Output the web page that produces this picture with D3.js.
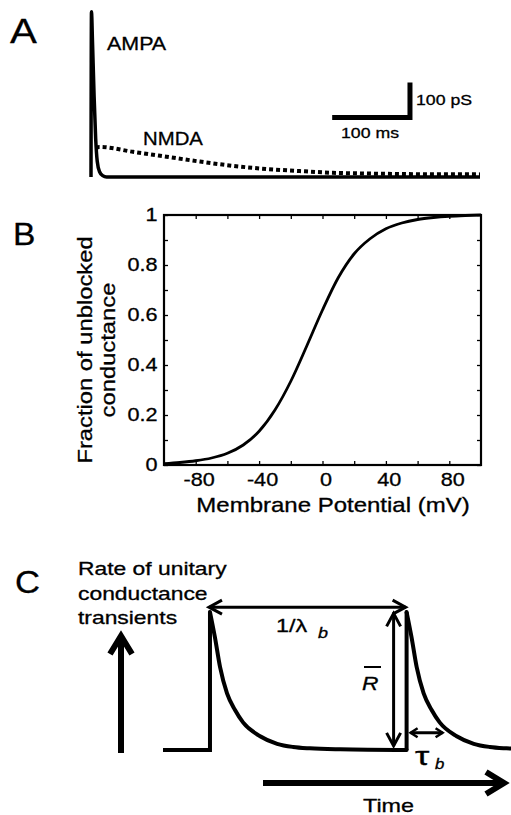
<!DOCTYPE html>
<html>
<head>
<meta charset="utf-8">
<script src="https://cdn.jsdelivr.net/npm/d3@7"></script>
<style>
  body { margin: 0; background: #fff; }
  svg { display: block; }
  text { font-family: "Liberation Sans", Arial, sans-serif; fill: #000; stroke: #000; stroke-width: 0.3px; }
</style>
</head>
<body>
<div id="fig"></div>
<script>
// ---- panel A: unitary conductance traces (time in ms, conductance in pS)
const ampaTime = [0, 0.6, 2, 4, 6, 8, 11, 15, 20, 500];
const ampaCond = [0, 472, 380, 230, 110, 45, 15, 4, 0, 0];
const nmdaTime = [6, 11, 54, 97, 140, 182, 225, 268, 311, 353, 396, 439, 500];
const nmdaCond = [84, 86, 72, 58, 44, 32, 23, 17, 12, 10, 8.6, 7.6, 7.5];
const scaleBarMs = 100, scaleBarPs = 100;

// ---- panel B: fraction of unblocked conductance vs membrane potential (mV)
const voltage   = [-100, -90, -80, -70, -60, -50, -40, -30, -20, -10, 0, 10, 20, 30, 40, 50, 60, 70, 80, 90, 100];
const unblocked = [0.005, 0.01, 0.017, 0.028, 0.047, 0.08, 0.135, 0.22, 0.335, 0.475, 0.62, 0.75, 0.845, 0.905, 0.945, 0.968, 0.982, 0.99, 0.995, 0.998, 1.0];
const xTicksB = [-80, -60, -40, -20, 0, 20, 40, 60, 80];
const yTicksB = [0, 0.1, 0.2, 0.3, 0.4, 0.5, 0.6, 0.7, 0.8, 0.9, 1];

// ---- panel C: schematic rate of transients (arbitrary units)
const transientOnsets = [13.5, 70];
const decayTime = [0, 1.4, 2.9, 4.9, 7.2, 9.5, 14.4, 19.3, 23.9, 28.7, 37.4, 56.5];
const decayRate = [1, 0.82, 0.6, 0.41, 0.29, 0.2, 0.1, 0.045, 0.022, 0.012, 0.005, 0];

const svg = d3.select("#fig").append("svg")
    .attr("width", 511)
    .attr("height", 815);

// text helper: the figure's type is a little wider than Arial, so stretch along the baseline
function addText(x, y, str, size, sx, opt = {}) {
  return svg.append("text")
    .attr("transform", `translate(${x},${y})${opt.rotate ? ` rotate(${opt.rotate})` : ""} scale(${sx},1)`)
    .attr("font-size", size)
    .attr("text-anchor", opt.anchor || "start")
    .attr("font-style", opt.italic ? "italic" : null)
    .text(str);
}

// ================= A =================
addText(10, 43, "A", 35, 1.15);

const xA = d3.scaleLinear().domain([0, 500]).range([91, 480]);
const yA = d3.scaleLinear().domain([0, 500]).range([177, 2]);
const lineA = d3.line()
    .x(d => xA(d[0]))
    .y(d => yA(d[1]))
    .curve(d3.curveMonotoneX);

svg.append("path")
    .datum(d3.zip(nmdaTime, nmdaCond))
    .attr("fill", "none")
    .attr("stroke", "#000")
    .attr("stroke-width", 4)
    .attr("stroke-dasharray", "4,3")
    .attr("d", lineA);

svg.append("path")
    .datum(d3.zip(ampaTime, ampaCond))
    .attr("fill", "none")
    .attr("stroke", "#000")
    .attr("stroke-width", 3.5)
    .attr("stroke-linejoin", "round")
    .attr("d", lineA);

// scale bar
const barT = 410, barG = 170;
svg.append("path")
    .attr("fill", "none")
    .attr("stroke", "#000")
    .attr("stroke-width", 5)
    .attr("d", `M${xA(barT - scaleBarMs)},${yA(barG)}H${xA(barT)}V${yA(barG + scaleBarPs)}`);

addText(107, 50, "AMPA", 18.5, 1.16);
addText(143, 145, "NMDA", 18.5, 1.1);
addText(416, 105, "100 pS", 15, 1.18);
addText(341, 138, "100 ms", 15, 1.18);

// ================= B =================
addText(13, 245, "B", 32, 1.05);

const xB = d3.scaleLinear().domain([-100, 100]).range([164, 481]);
const yB = d3.scaleLinear().domain([0, 1]).range([465, 215]);

function styleAxis(g, sx) {
  g.select(".domain").remove();
  g.selectAll("line").attr("stroke-width", 1.3);
  g.selectAll("text")
    .attr("font-size", 18.5)
    .attr("font-family", "\"Liberation Sans\", Arial, sans-serif")
    .attr("transform", `scale(${sx},1)`);
}

svg.append("g")
    .attr("transform", `translate(0,${yB(0)})`)
    .call(d3.axisBottom(xB).tickValues(xTicksB).tickSize(-4).tickPadding(8)
      .tickFormat(d => d % 40 === 0 ? String(d) : ""))
    .call(g => styleAxis(g, 1.17))
    .call(g => g.selectAll("text").attr("dx", 2.5));

svg.append("g")
    .attr("transform", `translate(${xB(-100)},0)`)
    .call(d3.axisLeft(yB).tickValues(yTicksB).tickSize(-4).tickPadding(5.5)
      .tickFormat(d => Math.round(d * 10) % 2 === 0 ? String(+d.toFixed(1)) : ""))
    .call(g => styleAxis(g, 1.17));

svg.append("g")
    .attr("transform", `translate(0,${yB(1)})`)
    .call(d3.axisTop(xB).tickValues(xTicksB).tickSize(-4).tickFormat(""))
    .call(g => styleAxis(g, 1));

svg.append("g")
    .attr("transform", `translate(${xB(100)},0)`)
    .call(d3.axisRight(yB).tickValues(yTicksB).tickSize(-4).tickFormat(""))
    .call(g => styleAxis(g, 1));

svg.append("rect")
    .attr("x", xB(-100))
    .attr("y", yB(1))
    .attr("width", xB(100) - xB(-100))
    .attr("height", yB(0) - yB(1))
    .attr("fill", "none")
    .attr("stroke", "#000")
    .attr("stroke-width", 2.2);

svg.append("path")
    .datum(d3.zip(voltage, unblocked))
    .attr("fill", "none")
    .attr("stroke", "#000")
    .attr("stroke-width", 2.8)
    .attr("d", d3.line()
      .x(d => xB(d[0]))
      .y(d => yB(d[1]))
      .curve(d3.curveMonotoneX));

addText(333, 512, "Membrane Potential (mV)", 20, 1.2, {anchor: "middle"});
addText(92, 350, "Fraction of unblocked", 20.5, 1.16, {anchor: "middle", rotate: -90});
addText(115, 350, "conductance", 20.5, 1.16, {anchor: "middle", rotate: -90});

// ================= C =================
addText(15, 593, "C", 32, 1.08);
addText(78, 575, "Rate of unitary", 18, 1.27);
addText(78, 600, "conductance", 18, 1.27);
addText(78, 624, "transients", 18, 1.27);

const xC = d3.scaleLinear().domain([0, 100]).range([163, 511]);
const yC = d3.scaleLinear().domain([0, 1]).range([750, 612]);

const defs = svg.append("defs");
function chevron(id, len, half, width) {
  defs.append("marker")
      .attr("id", id)
      .attr("viewBox", `${-len - 4} ${-half - 4} ${len + 10} ${2 * half + 8}`)
      .attr("refX", 0)
      .attr("refY", 0)
      .attr("markerWidth", len + 10)
      .attr("markerHeight", 2 * half + 8)
      .attr("markerUnits", "userSpaceOnUse")
      .attr("orient", "auto-start-reverse")
    .append("path")
      .attr("d", `M${-len},${-half}L0,0L${-len},${half}`)
      .attr("fill", "none")
      .attr("stroke", "#000")
      .attr("stroke-width", width);
}
chevron("chev", 13, 7, 3);
chevron("chevSmall", 7, 4.5, 2.5);
chevron("chevBig", 18, 11, 6);

// baseline and step up of each transient
const stepLine = d3.line().x(d => xC(d[0])).y(d => yC(d[1]));
const decayLine = d3.line().x(d => xC(d[0])).y(d => yC(d[1])).curve(d3.curveMonotoneX);

svg.append("path")
    .datum([[0, 0], [transientOnsets[0], 0], [transientOnsets[0], 1]])
    .attr("fill", "none").attr("stroke", "#000").attr("stroke-width", 4)
    .attr("d", stepLine);
svg.append("path")
    .datum([[transientOnsets[1], 0], [transientOnsets[1], 1]])
    .attr("fill", "none").attr("stroke", "#000").attr("stroke-width", 4)
    .attr("d", stepLine);

transientOnsets.forEach(t0 => {
  svg.append("path")
      .datum(decayTime.map((t, i) => [t0 + t, decayRate[i]]))
      .attr("fill", "none")
      .attr("stroke", "#000")
      .attr("stroke-width", 4)
      .attr("stroke-linecap", "round")
      .attr("d", decayLine);
});

function arrow(x1, y1, x2, y2, width, startId, endId) {
  svg.append("line")
      .attr("x1", x1).attr("y1", y1)
      .attr("x2", x2).attr("y2", y2)
      .attr("stroke", "#000")
      .attr("stroke-width", width)
      .attr("marker-start", startId ? `url(#${startId})` : null)
      .attr("marker-end", endId ? `url(#${endId})` : null);
}

// interval between transients
arrow(xC(transientOnsets[0]) - 1, yC(1.035), xC(transientOnsets[1]) - 1, yC(1.035), 3, "chev", "chev");
// amplitude
arrow(xC(transientOnsets[1]) - 13, yC(0.99), xC(transientOnsets[1]) - 13, yC(0.03), 3, "chev", "chev");
// decay time
arrow(xC(transientOnsets[1]) + 4, yC(0.125), xC(transientOnsets[1]) + 36, yC(0.125), 2.8, "chevSmall", "chevSmall");
// axes arrows
arrow(121, 753, 121, 636, 6, null, "chevBig");
arrow(263, 783, 504, 783, 6, null, "chevBig");

addText(276, 632, "1/λ", 19, 1.23);
addText(318, 638, "b", 15, 1.2, {italic: true});
addText(362, 690, "R", 19, 1.2, {italic: true});
svg.append("line")
    .attr("x1", 364).attr("x2", 381)
    .attr("y1", 667).attr("y2", 667)
    .attr("stroke", "#000").attr("stroke-width", 2);
addText(415, 765, "τ", 25, 1.45);
addText(435, 769, "b", 14, 1.2, {italic: true});
addText(363, 812, "Time", 19, 1.23);
</script>
</body>
</html>
